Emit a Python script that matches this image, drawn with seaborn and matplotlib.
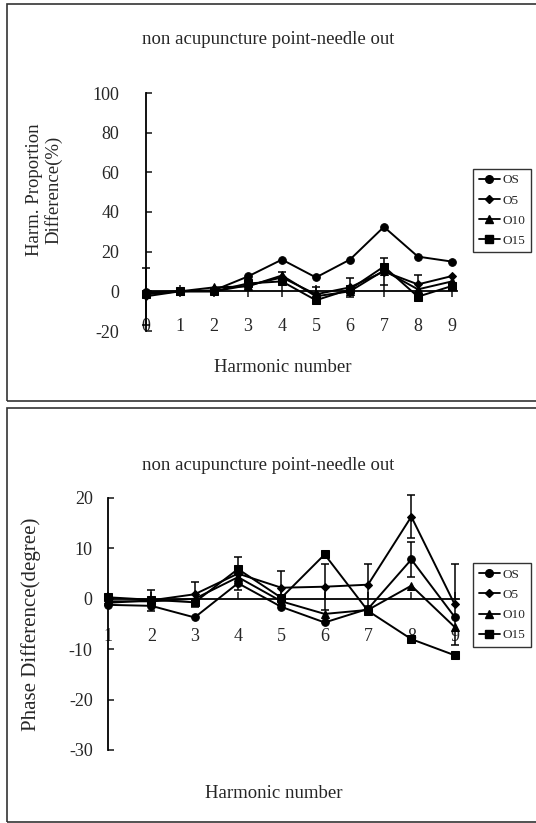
import numpy as np
import pandas as pd
import seaborn as sns
import matplotlib
matplotlib.use("Agg")
import matplotlib.pyplot as plt
from matplotlib.lines import Line2D
from matplotlib.patches import Rectangle

# harmonic proportion difference (%), harmonics 0..9
harm_top = [0, 1, 2, 3, 4, 5, 6, 7, 8, 9]
amp_os = [-0.5, 0, 0.5, 7.5, 16, 7, 16, 32.5, 17.5, 15]
amp_o5 = [-2.5, 0, 0, 3, 7, -1.5, 2, 10, 3.5, 7.7]
amp_o10 = [-1, 0, 2, 2.5, 8, -2.5, 0, 10.5, 1, 5]
amp_o15 = [-1.5, 0, 0, 4, 5, -4.5, 1, 12.5, -2.7, 2.7]
amp_o5_err = [14.5, 1, 1, 2, 2.7, 3.5, 4.8, 7, 4.5, 0]

# phase difference (degree), harmonics 1..9
harm_bot = [1, 2, 3, 4, 5, 6, 7, 8, 9]
ph_os = [-1.2, -1.4, -3.7, 3.1, -1.6, -4.7, -2, 7.8, -3.6]
ph_o5 = [-0.8, -0.3, 0.9, 5, 2.2, 2.4, 2.8, 16.3, -1.1]
ph_o10 = [-0.5, -0.5, 0, 4.3, -0.5, -3, -2.2, 2.6, -5.6]
ph_o15 = [0.3, -0.2, -0.7, 5.9, 0.2, 8.8, -2.4, -8, -11.2]
ph_o5_err = [0, 2.1, 2.5, 3.3, 3.4, 4.6, 4.2, 4.3, 8]
ph_os_err = [0, 0, 0, 0, 0, 0, 0, 3.4, 0]

series = ["OS", "O5", "O10", "O15"]
marks = {"OS": ("o", 5.5), "O5": ("D", 4), "O10": ("^", 6), "O15": ("s", 5.5)}

sns.set_theme(style="white")
plt.rcParams["font.family"] = ["Liberation Serif", "DejaVu Serif"]
plt.rcParams["axes.unicode_minus"] = False

W, H = 536, 823
fig = plt.figure(figsize=(W / 100, H / 100), dpi=100)


def px(l, t, r, b):
    return [l / W, 1 - b / H, (r - l) / W, (b - t) / H]


def draw(ax, x, data, errs):
    df = pd.DataFrame({"h": np.tile(x, 4), "v": np.concatenate(data),
                       "s": np.repeat(series, len(x))})
    for s in series:
        m, ms = marks[s]
        sns.lineplot(data=df[df.s == s], x="h", y="v", ax=ax, color="black",
                     marker=m, markersize=ms, markeredgecolor="black",
                     linewidth=1.4, clip_on=False, legend=False)
    for vals, e in errs:
        e = np.array(e)
        keep = e > 0
        ax.errorbar(np.array(x)[keep], np.array(vals)[keep], yerr=e[keep],
                    fmt="none", ecolor="black", elinewidth=1.1, capsize=3,
                    capthick=1.1, clip_on=False)


def style(ax, xlim, ylim, yt, xpad, ypad, xdir, xlen):
    ax.set_xlim(*xlim)
    ax.set_ylim(*ylim)
    ax.set_yticks(yt)
    ax.set_xticks(range(int(np.ceil(xlim[0])), 10))
    for side in ["top", "right"]:
        ax.spines[side].set_visible(False)
    ax.spines["bottom"].set_position(("data", 0))
    for side in ["left", "bottom"]:
        ax.spines[side].set_color("black")
        ax.spines[side].set_linewidth(1.3)
    ax.tick_params(axis="y", direction="in", length=4, width=1.2,
                   pad=ypad, labelsize=13, left=True)
    ax.tick_params(axis="x", direction=xdir, length=xlen, width=1.2,
                   pad=xpad, labelsize=13, bottom=True)
    ax.set_xlabel("")
    ax.set_ylabel("")
    ax.grid(False)


# top panel
ax1 = fig.add_axes(px(146, 93, 457, 331))
draw(ax1, harm_top, [amp_os, amp_o5, amp_o10, amp_o15], [(amp_o5, amp_o5_err)])
style(ax1, (0, 9.15), (-20, 100), range(-20, 101, 20), 15, 19, "inout", 9)

# bottom panel
ax2 = fig.add_axes(px(108, 498, 459, 750))
draw(ax2, harm_bot, [ph_os, ph_o5, ph_o10, ph_o15],
     [(ph_o5, ph_o5_err), (ph_os, ph_os_err)])
style(ax2, (1, 9.1), (-30, 20), range(-30, 21, 10), 21, 11, "in", 5)

# frames, titles, axis labels
for t, b in [(4, 401), (408, 822)]:
    fig.add_artist(Rectangle((7 / W, 1 - b / H), 1, (b - t) / H,
                             transform=fig.transFigure, fill=False,
                             edgecolor="#333333", linewidth=1.2))

title = "non acupuncture point-needle out"
fig.text(268 / W, 1 - 40 / H, title, ha="center", va="center", fontsize=13.5)
fig.text(268 / W, 1 - 465 / H, title, ha="center", va="center", fontsize=13.5)
fig.text(283 / W, 1 - 368 / H, "Harmonic number", ha="center", va="center", fontsize=13.5)
fig.text(274 / W, 1 - 793 / H, "Harmonic number", ha="center", va="center", fontsize=13.5)
fig.text(44 / W, 1 - 190 / H, "Harm. Proportion\nDifference(%)", ha="center",
         va="center", rotation=90, fontsize=13.5, linespacing=1.1)
fig.text(31 / W, 1 - 624 / H, "Phase Difference(degree)", ha="center",
         va="center", rotation=90, fontsize=15)

handles = [Line2D([], [], color="black", marker=marks[s][0], markersize=marks[s][1],
                  linewidth=1.3) for s in series]
for cy in [210.5, 605]:
    leg = fig.legend(handles, series, loc="center",
                     bbox_to_anchor=(502 / W, 1 - cy / H), fontsize=9.5,
                     frameon=True, fancybox=False, handlelength=1.6,
                     handletextpad=0.2, labelspacing=0.6, borderpad=0.4,
                     borderaxespad=0)
    leg.get_frame().set_edgecolor("black")
    leg.get_frame().set_linewidth(1.0)

fig.savefig("out.png", dpi=100)
